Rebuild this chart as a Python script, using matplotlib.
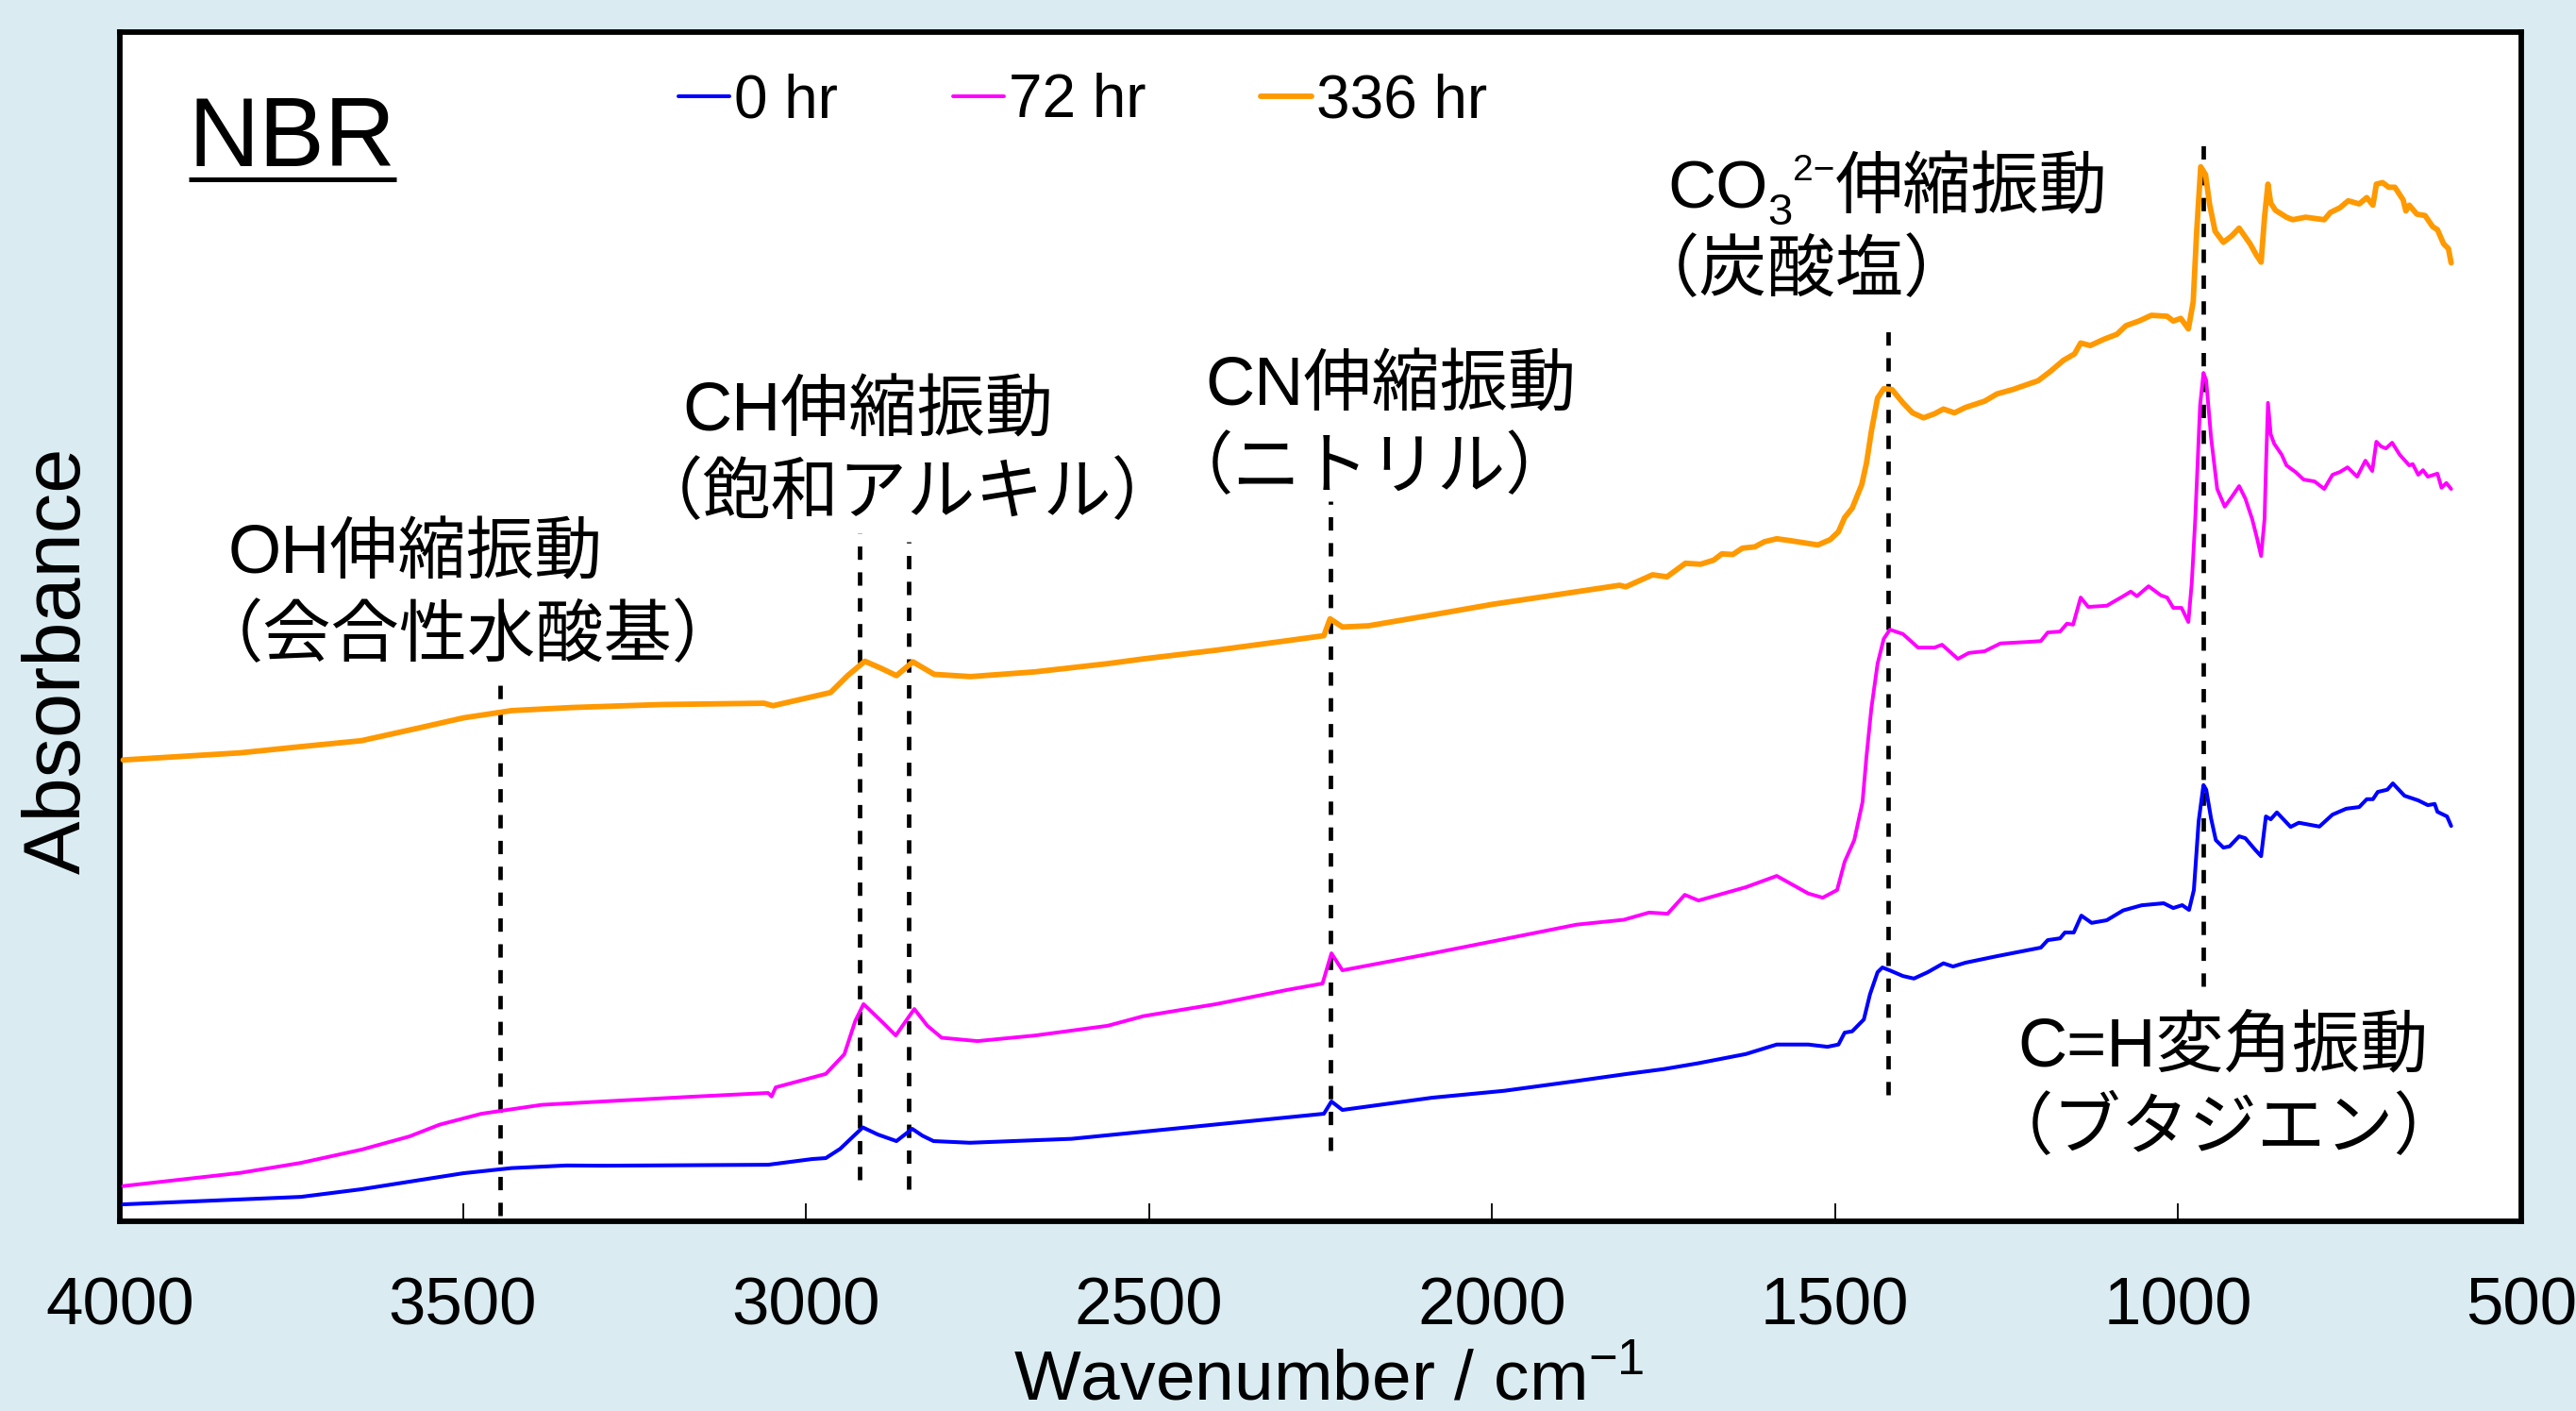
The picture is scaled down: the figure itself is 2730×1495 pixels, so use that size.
import matplotlib
matplotlib.use("Agg")
import matplotlib.pyplot as plt
import matplotlib.transforms as mtransforms
from matplotlib.lines import Line2D
import numpy as np

plt.rcParams['font.family'] = ['Liberation Sans', 'Noto Sans CJK JP']
plt.rcParams['mathtext.default'] = 'regular'

# ---- spectra (wavenumber / cm-1, absorbance offset per sample) ----
wn_0hr = [3995, 3736, 3648, 3561, 3499, 3429, 3349, 3297, 3055, 2991, 2971, 2950, 2930,
          2917, 2895, 2868, 2845, 2830, 2814, 2761, 2613, 2508, 2402, 2297, 2245, 2234,
          2218, 2087, 1982, 1877, 1803, 1750, 1699, 1630, 1585, 1539, 1511, 1495, 1486,
          1475, 1458, 1449, 1438, 1431, 1420, 1401, 1385, 1365, 1342, 1328, 1310, 1264,
          1200, 1190, 1172, 1165, 1152, 1141, 1126, 1104, 1080, 1053, 1021, 1007, 994,
          984, 977, 970, 963, 959, 952, 945, 934, 925, 911, 902, 888, 879, 872, 865, 856,
          836, 824, 794, 775, 755, 736, 725, 716, 709, 695, 687, 670, 650, 636, 626, 622,
          608, 602]
abs_0hr = [0.0143, 0.0206, 0.0270, 0.0349, 0.0405, 0.0448, 0.0470, 0.0468, 0.0476, 0.0524,
           0.0532, 0.0610, 0.0720, 0.0790, 0.0730, 0.0675, 0.0778, 0.0720, 0.0675, 0.0661,
           0.0694, 0.0754, 0.0815, 0.0875, 0.0905, 0.1008, 0.0937, 0.1040, 0.1098, 0.1180,
           0.1240, 0.1280, 0.1330, 0.1407, 0.1487, 0.1487, 0.1468, 0.1487, 0.1587, 0.1598,
           0.1698, 0.1910, 0.2095, 0.2135, 0.2110, 0.2063, 0.2042, 0.2095, 0.2170, 0.2143,
           0.2175, 0.2230, 0.2302, 0.2365, 0.2380, 0.2429, 0.2429, 0.2571, 0.2510, 0.2532,
           0.2615, 0.2658, 0.2675, 0.2635, 0.2659, 0.2619, 0.2786, 0.3365, 0.3669, 0.3630,
           0.3391, 0.3206, 0.3143, 0.3153, 0.3238, 0.3222, 0.3127, 0.3071, 0.3405, 0.3381,
           0.3439, 0.3317, 0.3352, 0.3320, 0.3420, 0.3470, 0.3484, 0.3550, 0.3550, 0.3611,
           0.3630, 0.3683, 0.3579, 0.3540, 0.3500, 0.3510, 0.3444, 0.3405, 0.3325]

wn_72hr = [3995, 3824, 3736, 3648, 3578, 3534, 3473, 3385, 3297, 3167, 3055, 3050, 3044,
           2971, 2944, 2928, 2916, 2887, 2869, 2842, 2823, 2802, 2750, 2666, 2560, 2508,
           2402, 2297, 2247, 2234, 2218, 2087, 1982, 1877, 1808, 1771, 1744, 1719, 1699,
           1630, 1585, 1539, 1518, 1497, 1486, 1472, 1460, 1454, 1447, 1438, 1429, 1420,
           1401, 1379, 1355, 1344, 1321, 1305, 1282, 1259, 1218, 1200, 1190, 1172, 1162,
           1153, 1142, 1131, 1104, 1080, 1069, 1060, 1043, 1025, 1016, 1007, 995, 985, 980,
           975, 968, 963, 959, 952, 943, 932, 922, 911, 902, 892, 885, 879, 874, 872, 869,
           865, 860, 849, 842, 829, 817, 801, 787, 775, 764, 753, 739, 727, 717, 711, 704,
           697, 688, 677, 663, 658, 650, 643, 636, 622, 616, 609, 602]
abs_72hr = [0.0297, 0.0408, 0.0492, 0.0603, 0.0714, 0.0813, 0.0905, 0.0980, 0.1008, 0.1048,
            0.1080, 0.1050, 0.1127, 0.1240, 0.1405, 0.1686, 0.1827, 0.1667, 0.1563, 0.1786,
            0.1645, 0.1544, 0.1516, 0.1563, 0.1645, 0.1726, 0.1827, 0.1948, 0.2000, 0.2254,
            0.2111, 0.2254, 0.2374, 0.2495, 0.2536, 0.2597, 0.2587, 0.2746, 0.2698, 0.2810,
            0.2905, 0.2757, 0.2722, 0.2786, 0.3024, 0.3206, 0.3524, 0.3920, 0.4317, 0.4690,
            0.4899, 0.4976, 0.4939, 0.4825, 0.4825, 0.4849, 0.4730, 0.4780, 0.4794, 0.4860,
            0.4873, 0.4880, 0.4952, 0.4960, 0.5026, 0.5018, 0.5246, 0.5167, 0.5177, 0.5257,
            0.5296, 0.5257, 0.5341, 0.5264, 0.5246, 0.5159, 0.5159, 0.5040, 0.5375, 0.5905,
            0.6857, 0.7135, 0.7071, 0.6595, 0.6159, 0.6010, 0.6090, 0.6183, 0.6079, 0.5905,
            0.5746, 0.5595, 0.5905, 0.6328, 0.6883, 0.6619, 0.6540, 0.6447, 0.6357, 0.6302,
            0.6238, 0.6222, 0.6159, 0.6278, 0.6302, 0.6341, 0.6262, 0.6397, 0.6310, 0.6556,
            0.6516, 0.6500, 0.6548, 0.6447, 0.6357, 0.6368, 0.6278, 0.6317, 0.6262, 0.6288,
            0.6169, 0.6209, 0.6159]

wn_336hr = [3995, 3824, 3736, 3648, 3561, 3499, 3429, 3341, 3210, 3061, 3048, 2964, 2939,
            2914, 2890, 2868, 2844, 2813, 2760, 2666, 2560, 2508, 2402, 2297, 2245, 2236,
            2218, 2180, 2089, 1998, 1905, 1814, 1805, 1766, 1745, 1718, 1696, 1677, 1665,
            1649, 1635, 1617, 1603, 1585, 1566, 1525, 1507, 1495, 1486, 1475, 1461, 1454,
            1447, 1438, 1429, 1417, 1401, 1387, 1371, 1355, 1342, 1326, 1310, 1282, 1264,
            1241, 1204, 1186, 1167, 1151, 1142, 1128, 1108, 1089, 1076, 1057, 1039, 1016,
            1007, 996, 985, 978, 973, 967, 960, 954, 946, 934, 922, 911, 895, 886, 879, 874,
            869, 865, 858, 842, 833, 814, 787, 778, 764, 752, 736, 725, 716, 711, 702, 693,
            684, 672, 668, 663, 652, 640, 629, 622, 613, 606, 602]
abs_336hr = [0.3880, 0.3940, 0.3992, 0.4042, 0.4153, 0.4234, 0.4295, 0.4321, 0.4346, 0.4357,
             0.4336, 0.4447, 0.4590, 0.4710, 0.4650, 0.4589, 0.4705, 0.4600, 0.4581, 0.4621,
             0.4690, 0.4730, 0.4803, 0.4884, 0.4925, 0.5067, 0.4998, 0.5008, 0.5098, 0.5190,
             0.5270, 0.5349, 0.5336, 0.5437, 0.5420, 0.5534, 0.5526, 0.5560, 0.5613, 0.5608,
             0.5661, 0.5672, 0.5715, 0.5740, 0.5725, 0.5688, 0.5733, 0.5799, 0.5918, 0.5997,
             0.6196, 0.6381, 0.6645, 0.6923, 0.7002, 0.6995, 0.6883, 0.6799, 0.6757, 0.6791,
             0.6831, 0.6799, 0.6844, 0.6897, 0.6958, 0.6995, 0.7069, 0.7148, 0.7241, 0.7294,
             0.7386, 0.7365, 0.7418, 0.7460, 0.7532, 0.7571, 0.7619, 0.7611, 0.7571, 0.7593,
             0.7505, 0.7730, 0.8312, 0.8868, 0.8802, 0.8550, 0.8325, 0.8233, 0.8286, 0.8352,
             0.8220, 0.8127, 0.8066, 0.8444, 0.8722, 0.8563, 0.8502, 0.8444, 0.8423, 0.8444,
             0.8423, 0.8484, 0.8524, 0.8582, 0.8556, 0.8609, 0.8545, 0.8722, 0.8735, 0.8696,
             0.8696, 0.8590, 0.8497, 0.8545, 0.8470, 0.8458, 0.8365, 0.8339, 0.8220, 0.8180,
             0.8060]

series_labels = ['0 hr', '72 hr', '336 hr']

# assigned bands: dashed marker position (cm-1)
band_wn = [3445, 2922, 2850, 2236, 1422, 963]

x_ticks = [4000, 3500, 3000, 2500, 2000, 1500, 1000, 500]

BG = '#DAECF2'
fig = plt.figure(figsize=(27.3, 14.95), dpi=100, facecolor=BG)
ax = fig.add_axes([0.0465, 0.1344, 0.9322, 0.8428])
ax.set_facecolor('white')

styles = [('#0000FF', 2.9), ('#FF00FF', 2.8), ('#FF9900', 4.2)]
data = [(wn_0hr, abs_0hr), (wn_72hr, abs_72hr), (wn_336hr, abs_336hr)]
handles = []
for (wn, ab), (col, lw), lab in zip(data, styles, series_labels):
    h, = ax.plot(wn, ab, color=col, lw=lw, label=lab, solid_joinstyle='round',
                 solid_capstyle='round', zorder=3)
    handles.append(h)

# vertical dashed guides for each band
guide_top = [0.4548, 0.5786, 0.5714, 0.6056, 0.7532, 0.9143]
guide_bottom = [0.0048, 0.0349, 0.0270, 0.0595, 0.1063, 0.1976]
for xw, y0, y1 in zip(band_wn, guide_bottom, guide_top):
    ax.plot([xw, xw], [y0, y1], color='black', lw=3.4, ls=(0, (3.0, 2.8)),
            dash_capstyle='butt', zorder=2)

ax.set_xlim(4000, 500)
ax.set_ylim(0, 1)
ax.set_xticks(x_ticks)
ax.set_yticks([])
ax.tick_params(axis='x', direction='in', length=14, width=1.3, pad=42, labelsize=51)
for sp in ax.spines.values():
    sp.set_linewidth(4.2)

fig.canvas.draw()
renderer = fig.canvas.get_renderer()


def text_run(x, y, pieces):
    # lay out pieces left to right; each piece is (text, size, rise in points)
    for s, size, rise in pieces:
        tr = mtransforms.offset_copy(ax.transData, fig=fig, x=0, y=rise, units='points')
        t = ax.text(x, y, s, fontsize=size, ha='left', va='baseline', transform=tr,
                    zorder=4)
        bb = t.get_window_extent(renderer)
        x = ax.transData.inverted().transform((bb.x1, bb.y0))[0]


# band annotations: first line pieces, second line, anchors in data units
notes = [
    ([('OH伸縮振動', 52, 0)], '（会合性水酸基）', (3842, 0.5452), (3890, 0.4754)),
    ([('CH伸縮振動', 52, 0)], '（飽和アルキル）', (3180, 0.6651), (3250, 0.5952)),
    ([('CN伸縮振動', 52, 0)], '（ニトリル）', (2418, 0.6865), (2476, 0.6167)),
    ([('CO', 51, 0), ('3', 34, -13), ('2−', 28, 21), ('伸縮振動', 52, 0)],
     '（炭酸塩）', (1744, 0.8524), (1797, 0.7825)),
    ([('C=H変角振動', 52, 0)], '（ブタジエン）', (1234, 0.1310), (1281, 0.0611)),
]
for first, second, p1, p2 in notes:
    text_run(p1[0], p1[1], first)
    ax.text(p2[0], p2[1], second, fontsize=52, ha='left', va='baseline', zorder=4)

# sample name, underlined
nbr = ax.text(0.0287, 0.8873, 'NBR', fontsize=75, ha='left', va='baseline',
              transform=ax.transAxes)
bb = nbr.get_window_extent(renderer).transformed(ax.transAxes.inverted())
ax.add_line(Line2D([bb.x0, bb.x1], [0.8766, 0.8766], transform=ax.transAxes,
                   color='black', lw=3.6, solid_capstyle='butt'))

ax.legend(handles=handles, labels=series_labels, loc='center left',
          bbox_to_anchor=(0.2634, 0.9284), bbox_transform=fig.transFigure,
          ncol=3, frameon=False, fontsize=46, handlelength=0.85, handletextpad=0.08,
          columnspacing=1.9, borderpad=0, borderaxespad=0)

fig.text(0.5158, 0.008, 'Wavenumber / cm$^{-1}$', fontsize=54, ha='center', va='baseline')
fig.text(0.0229, 0.532, 'Absorbance', fontsize=61, rotation=90, ha='center', va='center')

fig.savefig('out.png', dpi=100, facecolor=BG)
